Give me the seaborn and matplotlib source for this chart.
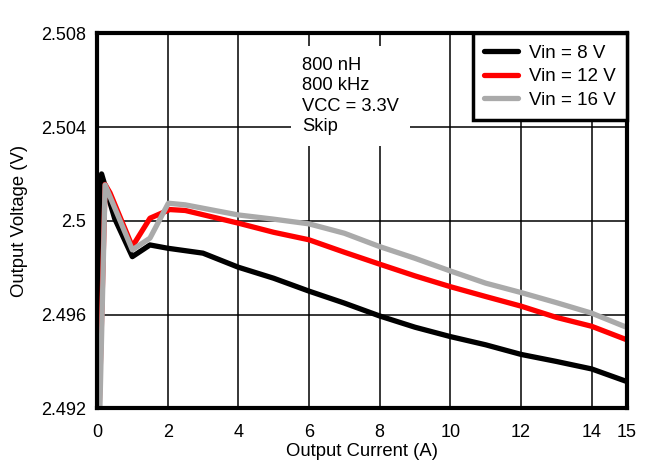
import numpy as np
import pandas as pd
import matplotlib
matplotlib.use("Agg")
import matplotlib.pyplot as plt
import seaborn as sns

# load current (A) and output voltage (V)
i_8v = [0.05, 0.13, 0.5, 1.0, 1.5, 2, 3, 4, 5, 6, 7, 8, 9, 10, 11, 12, 13, 14, 15]
v_8v = [2.4918, 2.5020, 2.5001, 2.49847, 2.49897, 2.49883, 2.49862, 2.49802, 2.49755,
        2.49700, 2.49649, 2.49594, 2.49546, 2.49506, 2.49471, 2.49430, 2.49400, 2.49368, 2.49314]

i_12v = [0.06, 0.23, 0.37, 1.0, 1.5, 2.06, 2.5, 4, 5, 6, 7, 8, 9, 10, 11, 12, 13, 14, 15]
v_12v = [2.4918, 2.50155, 2.50119, 2.49890, 2.50011, 2.50048, 2.50044, 2.49990, 2.49951,
         2.49919, 2.49866, 2.49815, 2.49765, 2.49719, 2.49677, 2.49636, 2.49588, 2.49550, 2.49492]

i_16v = [0.08, 0.23, 1.0, 1.5, 2.02, 2.5, 4, 5, 6, 7, 8, 9, 10, 11, 12, 13, 14, 15]
v_16v = [2.4918, 2.50153, 2.49876, 2.49926, 2.50075, 2.50068, 2.50025, 2.50007, 2.49987,
         2.49947, 2.49890, 2.49840, 2.49786, 2.49734, 2.49694, 2.49651, 2.49606, 2.49545]

series = ["Vin = 8 V", "Vin = 12 V", "Vin = 16 V"]
colors = ["#000000", "#ff0000", "#aaaaaa"]

x_ticks = [0, 2, 4, 6, 8, 10, 12, 14, 15]
y_ticks = [2.492, 2.496, 2.5, 2.504, 2.508]
y_labels = ["2.492", "2.496", "2.5", "2.504", "2.508"]
note = "800 nH\n800 kHz\nVCC = 3.3V\nSkip"

df = pd.concat([
    pd.DataFrame({"I": i_8v, "V": v_8v, "Vin": series[0]}),
    pd.DataFrame({"I": i_12v, "V": v_12v, "Vin": series[1]}),
    pd.DataFrame({"I": i_16v, "V": v_16v, "Vin": series[2]}),
], ignore_index=True)

sns.set_style("white")
plt.rcParams["font.family"] = ["Liberation Sans", "DejaVu Sans"]
plt.rcParams["text.color"] = "black"
plt.rcParams["axes.labelcolor"] = "black"
plt.rcParams["xtick.color"] = "black"
plt.rcParams["ytick.color"] = "black"

fig = plt.figure(figsize=(6.57, 4.75), dpi=100)
ax = fig.add_axes([0.1476, 0.1404, 0.8067, 0.7895])

sns.lineplot(data=df, x="I", y="V", hue="Vin", hue_order=series,
             palette=colors, linewidth=3.8, estimator=None, sort=False, ax=ax)

ax.set_xlim(0, 15)
ax.set_ylim(2.492, 2.508)
ax.set_xticks(x_ticks)
ax.set_xticklabels([str(t) for t in x_ticks])
ax.set_yticks(y_ticks)
ax.set_yticklabels(y_labels)
ax.tick_params(axis="x", length=0, labelsize=13, pad=11)
ax.tick_params(axis="y", length=0, labelsize=13, pad=8)
ax.grid(True, color="black", linewidth=1.1)
ax.set_axisbelow(True)
for s in ax.spines.values():
    s.set_linewidth(3)
    s.set_color("black")

ax.set_xlabel("Output Current (A)", fontsize=13.3, labelpad=2)
ax.set_ylabel("Output Voltage (V)", fontsize=13.3, labelpad=9)

ax.text(5.8, 2.5070, note, fontsize=13.2, va="top", ha="left", linespacing=1.27,
        bbox=dict(facecolor="white", edgecolor="none", pad=8), zorder=5)

leg = ax.legend(loc="upper right", fontsize=13.5, frameon=True, fancybox=False,
                borderaxespad=0, handlelength=1.8, borderpad=0.6, labelspacing=0.35,
                handletextpad=0.6)
leg.get_frame().set_edgecolor("black")
leg.get_frame().set_linewidth(2.5)
leg.get_frame().set_alpha(1)
for h in leg.get_lines():
    h.set_linewidth(3.8)

fig.savefig("out.png", dpi=100)
